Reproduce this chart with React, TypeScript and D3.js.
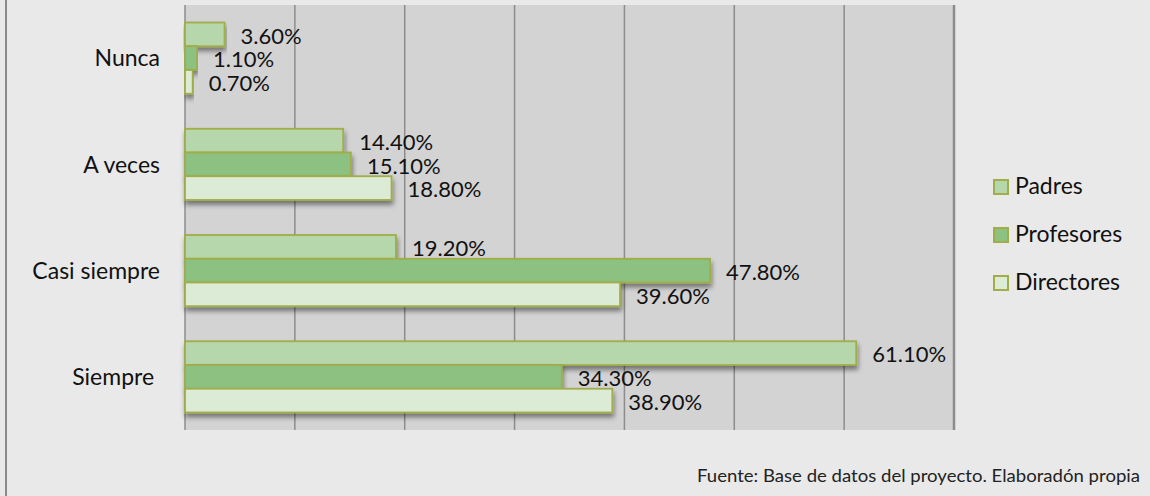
import React from "react";
import * as d3 from "d3";

const categories = ["Nunca", "A veces", "Casi siempre", "Siempre "];
const seriesNames = ["Padres", "Profesores", "Directores"];
const padres = [3.6, 14.4, 19.2, 61.1];
const profesores = [1.1, 15.1, 47.8, 34.3];
const directores = [0.7, 18.8, 39.6, 38.9];
const xTicks = [0, 10, 20, 30, 40, 50, 60, 70];
const sourceText = "Fuente: Base de datos del proyecto. Elaboradón propia";

const colors = ["#b6d7ab", "#8cc181", "#dbebd5"];
const strokeColor = "#a0ad48";
const FONT = "Lato, 'Open Sans', sans-serif";

export default function App() {
  const W = 1150, H = 496;
  const left = 185, right = 954, top = 5, bottom = 430;
  const series = [padres, profesores, directores];

  const x = d3.scaleLinear().domain([0, 70]).range([left, right]);
  const y0 = d3.scaleBand<string>().domain(categories).range([top, bottom]).paddingInner(0.33).paddingOuter(0.165);
  const y1 = d3.scaleBand<string>().domain(seriesNames).range([0, y0.bandwidth()]);

  return (
    <svg width={W} height={H} style={{ position: "absolute", left: 0, top: 0 }} fontFamily={FONT}>
      <defs>
        <filter id="sh" x="-5%" y="-30%" width="110%" height="180%">
          <feDropShadow dx="1" dy="4" stdDeviation="2.5" floodColor="#000" floodOpacity="0.45" />
        </filter>
      </defs>
      <rect x={0} y={0} width={W} height={H} fill="#e9e9e9" />
      <line x1={6} x2={6} y1={0} y2={H} stroke="#8a8a8a" strokeWidth={2} />
      <rect x={left} y={top} width={right - left} height={bottom - top} fill="#d3d3d3" />
      {xTicks.map((t, i) => (
        <line key={t} x1={x(t)} x2={x(t)} y1={top} y2={bottom}
          stroke="#8c8c8c" strokeWidth={i === xTicks.length - 1 ? 2.5 : 1.5} />
      ))}
      {categories.map((c, ci) => (
        <g key={c}>
          <text x={160} y={(y0(c) as number) - y0.step() * 0.165 + y0.step() / 2} dy="0.36em"
            textAnchor="end" fontSize={23} fill="#111" style={{ whiteSpace: "pre" }}>{c}</text>
          {seriesNames.map((s, si) => {
            const v = series[si][ci];
            const yy = (y0(c) as number) + (y1(s) as number);
            const h = y1.bandwidth();
            return (
              <g key={s}>
                <rect x={x(0)} y={yy} width={x(v) - x(0)} height={h} fill={colors[si]}
                  stroke={strokeColor} strokeWidth={1.8} filter="url(#sh)" />
                <text x={x(v) + 16} y={yy + h / 2} dy="0.42em" fontSize={22} fill="#111">
                  {v.toFixed(2) + "%"}
                </text>
              </g>
            );
          })}
        </g>
      ))}
      {seriesNames.map((s, si) => (
        <g key={s} transform={`translate(994, ${180 + si * 48})`}>
          <rect x={0} y={0} width={14} height={14} fill={colors[si]} stroke={strokeColor} strokeWidth={2} />
          <text x={21} y={14} fontSize={23} fill="#111">{s}</text>
        </g>
      ))}
      <text x={1140} y={482} textAnchor="end" fontSize={18} fill="#222"
        textLength={443} lengthAdjust="spacingAndGlyphs">{sourceText}</text>
    </svg>
  );
}
